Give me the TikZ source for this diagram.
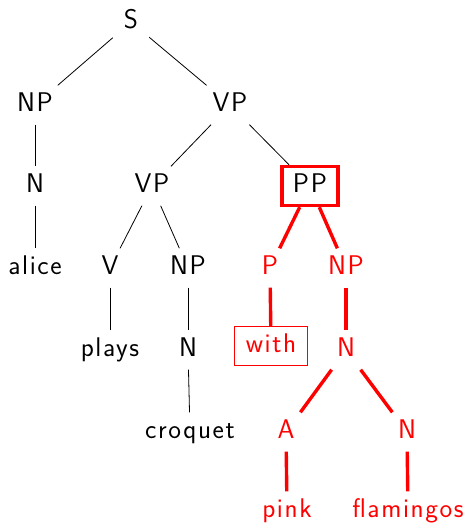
\documentclass[tikz,border=0pt]{standalone}
\usepackage{fontspec}
\setsansfont{Latin Modern Sans}[LetterSpace=6]
\begin{document}
\begin{tikzpicture}[x=1pt,y=-1pt,
  every node/.style={font=\fontsize{27}{32}\selectfont\sffamily, inner xsep=11pt, inner ysep=6pt, text height=20pt, text depth=7pt},
  blk/.style={draw=black, line width=0.8pt},
  red edge/.style={draw=red, line width=3.4pt},
  redtext/.style={text=red},
  thickbox/.style={draw=red, line width=3.4pt},
  thinbox/.style={draw=red, line width=0.9pt, text=red}]
\useasboundingbox (0,0) rectangle (469,523);
\node (S)   at (131,22)  {S};
\node (NP)  at (35,105)  {NP};
\node (VP)  at (230,105) {VP};
\node (N)   at (35,186)  {N};
\node (VPb) at (152,186) {VP};
\node[thickbox] (PP) at (310,186) {PP};
\node (alice) at (35,268) {alice};
\node (V)   at (110,268) {V};
\node (NPb) at (188,268) {NP};
\node[redtext] (P)   at (270,268) {P};
\node[redtext] (NPc) at (346,268) {NP};
\node (plays) at (110,350) {plays};
\node (Nb)  at (188,350) {N};
\node[thinbox] (with) at (271,346) {with};
\node[redtext] (Nc)  at (346,350) {N};
\node (croquet) at (190,432) {croquet};
\node[redtext] (A)   at (286,432) {A};
\node[redtext] (Nd)  at (407,432) {N};
\node[redtext] (pink) at (287,511) {pink};
\node[redtext] (flam) at (408,511) {flamingos};
\draw[blk] (S) -- (NP);
\draw[blk] (S) -- (VP);
\draw[blk] (NP) -- (N);
\draw[blk] (N) -- (alice);
\draw[blk] (VP) -- (VPb);
\draw[blk] (VP) -- (PP);
\draw[blk] (VPb) -- (V);
\draw[blk] (VPb) -- (NPb);
\draw[blk] (V) -- (plays);
\draw[blk] (NPb) -- (Nb);
\draw[blk] (Nb) -- (croquet);
\draw[red edge] (PP) -- (P);
\draw[red edge] (PP) -- (NPc);
\draw[red edge] (P) -- (with);
\draw[red edge] (NPc) -- (Nc);
\draw[red edge] (Nc) -- (A);
\draw[red edge] (Nc) -- (Nd);
\draw[red edge] (A) -- (pink);
\draw[red edge] (Nd) -- (flam);
\end{tikzpicture}
\end{document}
